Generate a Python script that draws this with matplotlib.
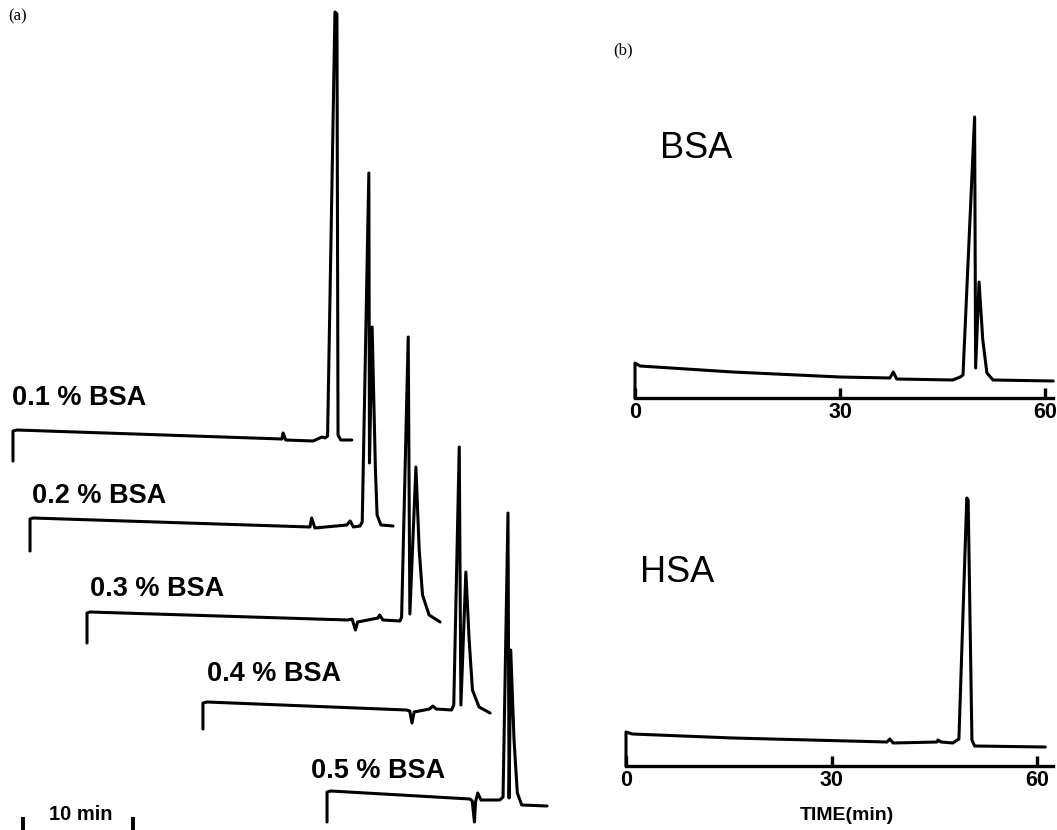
import matplotlib
matplotlib.use('Agg')
import matplotlib.pyplot as plt

# ---------------- Panel (a): stacked chromatograms ----------------
labels_a = ['0.1 % BSA', '0.2 % BSA', '0.3 % BSA', '0.4 % BSA', '0.5 % BSA']

t1 = [0, 0, 0.36, 24.45, 24.55, 24.8, 27.27, 28.1, 28.36, 28.6, 29.27, 29.45, 29.55, 29.8, 30.8]
s1 = [-30, 0, 1, -8, -2, -9, -10, -6, -7, -5, 419, 417, -4, -9, -9]

t2 = [0, 0, 0.27, 25.45, 25.6, 25.9, 28.8, 29.1, 29.4, 30.0, 30.2, 30.8, 30.86, 31.1, 31.4, 31.55, 31.9, 33.0]
s2 = [-32, 0, 1, -8, 1, -9, -6, -2, -8, -7, -3, 346, 56, 192, 49, 4, -6, -7]

t3 = [0, 0, 0.27, 23.7, 24.1, 24.4, 24.6, 26.45, 26.6, 26.9, 28.45, 28.6, 29.2, 29.35, 29.9, 30.2, 30.5, 31.1, 32.1]
s3 = [-30, 0, 1, -7, -6, -17, -9, -5, -2, -7, -8, -4, 276, -1, 146, 63, 18, -2, -9]

t4 = [0, 0, 0.36, 18.5, 18.8, 19.0, 19.2, 20.6, 20.9, 21.2, 22.6, 22.8, 23.3, 23.45, 23.9, 24.2, 24.5, 25.1, 26.1]
s4 = [-26, 0, 1, -7, -8, -20, -9, -6, -3, -6, -7, -2, 256, -2, 131, 63, 13, -4, -10]

t5 = [0, 0, 0.36, 13.0, 13.2, 13.4, 13.5, 13.7, 14.0, 15.7, 16.0, 16.45, 16.55, 16.7, 17.0, 17.3, 17.7, 20.0]
s5 = [-30, 0, 1, -7, -9, -30, -10, -1, -8, -8, -5, 279, -6, 142, 52, -1, -13, -14]

times_a = [t1, t2, t3, t4, t5]
signals_a = [s1, s2, s3, s4, s5]

# ---------------- Panel (b): BSA and HSA ----------------
t_bsa = [0, 0, 0.73, 14.3, 30.0, 37.3, 37.8, 38.3, 46.5, 47.6, 48.0, 49.7, 49.85, 50.35, 50.9, 51.5, 52.4, 61.2]
s_bsa = [0, 35, 32, 26, 21, 20, 26, 19, 18, 21, 23, 281, 30, 116, 58, 25, 18, 17]

t_hsa = [0, 0, 0.9, 15.6, 38.1, 38.5, 39.0, 45.4, 45.55, 46.0, 47.7, 48.6, 49.75, 49.95, 50.5, 50.9, 61.2]
s_hsa = [0, 34, 32, 28, 24, 27, 23, 24, 26, 24, 23, 27, 268, 266, 26, 20, 19]

time_ticks = [0, 30, 60]
time_ticklabels = ['0', '30', '60']

# ---------------- Figure ----------------
W, H = 1057, 830
fig = plt.figure(figsize=(W / 100, H / 100), dpi=100)
fig.patch.set_facecolor('white')

LW = 2.2
line_kw = dict(color='black', lw=LW, solid_joinstyle='round', solid_capstyle='round')
bold_font = ['Liberation Sans', 'DejaVu Sans']

# panel (a) axes: 11 px per minute, 1 a.u. per px
ax_a = fig.add_axes([0, 0, 560 / W, 1])
ax_a.set_xlim(0, 560 / 11)
ax_a.set_ylim(0, 830)
ax_a.axis('off')

x_offsets = [1.18, 2.73, 7.91, 18.45, 29.73]
y_offsets = [399, 311, 217, 127, 38]
label_x = [1.09, 2.91, 8.18, 18.82, 28.27]
label_y = [432, 334, 241, 156, 59]

for t, s, xo, yo, lab, lx, ly in zip(times_a, signals_a, x_offsets, y_offsets,
                                     labels_a, label_x, label_y):
    ax_a.plot([v + xo for v in t], [v + yo for v in s], **line_kw)
    ax_a.text(lx, ly, lab, ha='left', va='center', fontsize=19.5,
              fontweight='bold', family=bold_font)

# 10 min scale bar
bar_start = 2.1
ax_a.vlines([bar_start, bar_start + 10], 0, 13, color='black', lw=2.8)
ax_a.text(bar_start + 5.2, 16, '10 min', ha='center', va='center', fontsize=14.5,
          fontweight='bold', family=bold_font)

fig.text(8 / W, 1 - 16 / H, '(a)', ha='left', va='center', fontsize=12,
         family=['Liberation Serif', 'DejaVu Serif'])
fig.text(613 / W, 1 - 50 / H, '(b)', ha='left', va='center', fontsize=12,
         family=['Liberation Serif', 'DejaVu Serif'])


def setup_time_axis(ax, right_bound):
    for side in ['top', 'right', 'left']:
        ax.spines[side].set_visible(False)
    ax.spines['bottom'].set_position(('data', 0))
    ax.spines['bottom'].set_bounds(0, right_bound)
    ax.spines['bottom'].set_linewidth(2.4)
    ax.set_yticks([])
    ax.set_xticks(time_ticks)
    ax.set_xticklabels(time_ticklabels)
    ax.tick_params(axis='x', direction='in', length=7, width=2.4, pad=3,
                   labelsize=15.5)
    for lab in ax.get_xticklabels():
        lab.set_fontweight('bold')
        lab.set_family(bold_font)
    ax.patch.set_alpha(0)


label_font = ['Liberation Sans Narrow', 'Liberation Sans', 'DejaVu Sans']

# BSA axes: 6.833 px/min, zero at x=635 px, axis at y=398 px
ax_b1 = fig.add_axes([600 / W, 1 - 430 / H, 457 / W, 430 / H])
ax_b1.set_xlim((600 - 635) / 6.833, (1057 - 635) / 6.833)
ax_b1.set_ylim(398 - 430, 398)
ax_b1.plot(t_bsa, s_bsa, **line_kw)
setup_time_axis(ax_b1, 61.2)
ax_b1.text(3.66, 250, 'BSA', ha='left', va='center', fontsize=26,
           family=label_font)

# HSA axes: 6.85 px/min, zero at x=626 px, axis at y=766 px
ax_b2 = fig.add_axes([600 / W, 0, 457 / W, 400 / H])
ax_b2.set_xlim((600 - 626) / 6.85, (1057 - 626) / 6.85)
ax_b2.set_ylim(766 - 830, 766 - 430)
ax_b2.plot(t_hsa, s_hsa, **line_kw)
setup_time_axis(ax_b2, 62.3)
ax_b2.text(2.0, 193, 'HSA', ha='left', va='center', fontsize=26,
           family=label_font)
ax_b2.text(32.3, -49, 'TIME(min)', ha='center', va='center', fontsize=14,
           fontweight='bold', family=bold_font)

fig.savefig('out.png', dpi=100, facecolor='white')
